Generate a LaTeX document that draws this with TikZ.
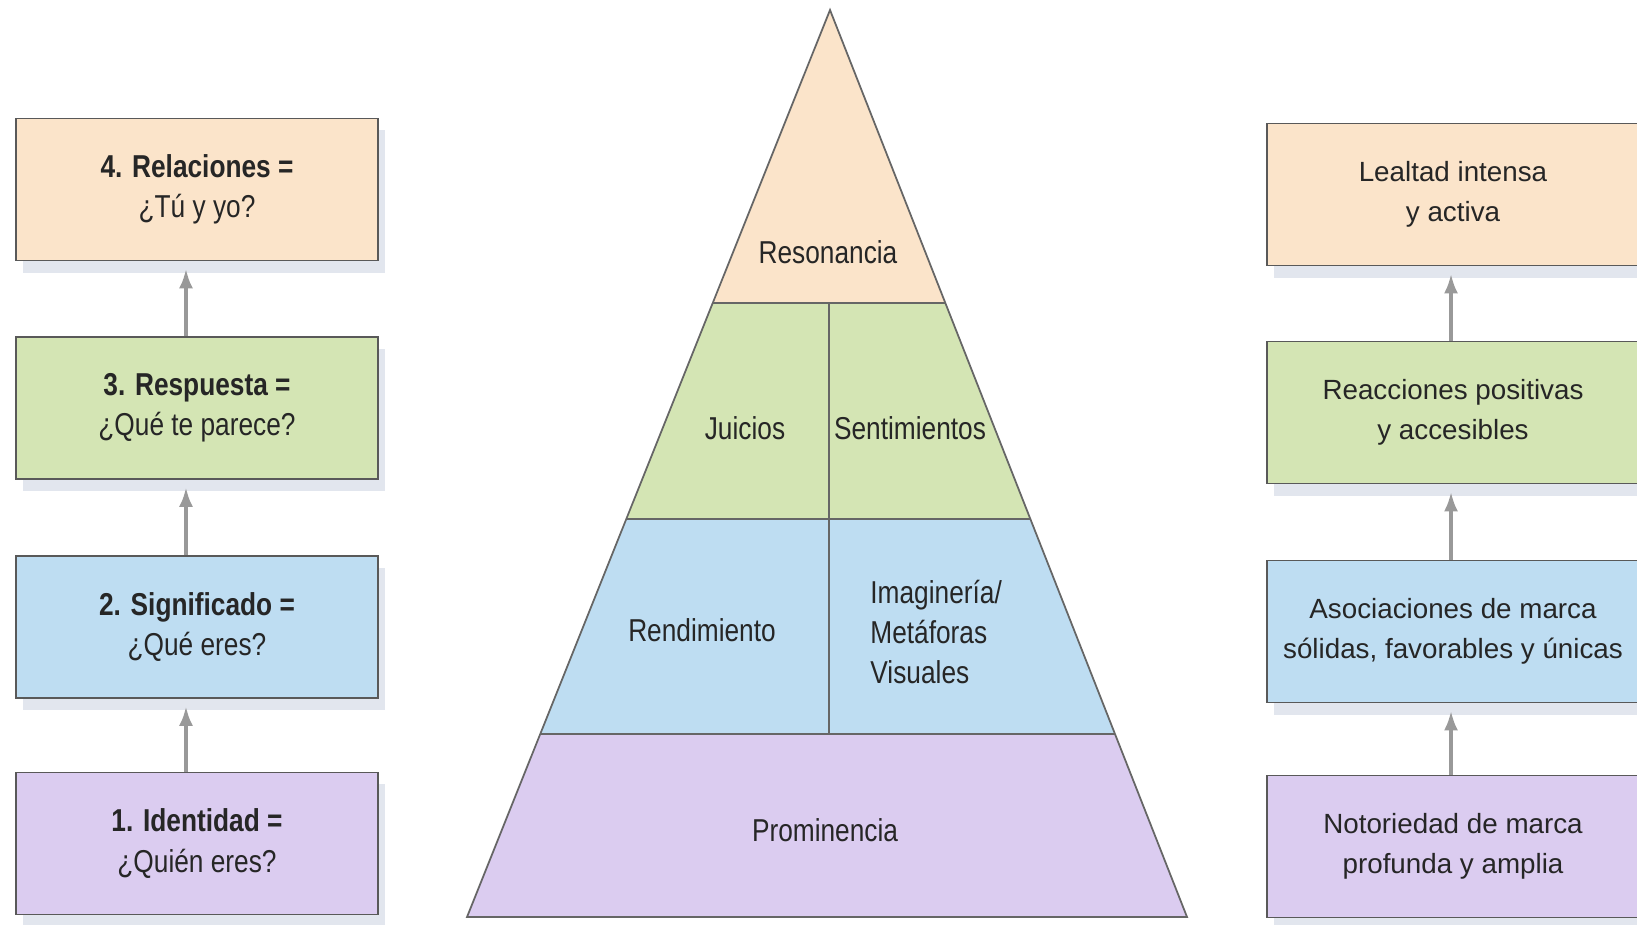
\documentclass[tikz,border=0pt]{standalone}
\usepackage{fontspec}
\setmainfont{Liberation Sans}
\newfontfamily\condfont{Liberation Sans}[FakeStretch=0.83]
\usetikzlibrary{arrows.meta, calc, shadows}
\definecolor{peachfill}{RGB}{251,228,202}
\definecolor{greenfill}{RGB}{212,229,180}
\definecolor{bluefill}{RGB}{190,221,242}
\definecolor{lilacfill}{RGB}{219,204,240}
\definecolor{shadowfill}{RGB}{226,230,238}
\tikzset{
    levelbox/.style={rectangle, minimum width=3.62cm, minimum height=1.42cm, align=center, draw=black!65, line width=0.5pt, text=black!85, font=\condfont\fontsize{9}{11.4}\selectfont, drop shadow={shadow xshift=0.07cm, shadow yshift=-0.12cm, fill=shadowfill, opacity=1}},
    goalbox/.style={levelbox, minimum width=3.72cm, font=\fontsize{7.9}{11.4}\selectfont},
    layer/.style={draw=black!60, line width=0.5pt},
    layertext/.style={align=left, text=black!85, font=\condfont\fontsize{9}{11.4}\selectfont},
    uparrow/.style={draw=black!40, line width=1.4pt, -{Latex[length=0.2cm, width=0.14cm]}, shorten >=0.07cm}
}
\begin{document}
\begin{tikzpicture}[x=0.01cm, y=-0.01cm]
    \useasboundingbox (0,0) rectangle (1637,925);

    % Left column: the four steps
    \node[levelbox, fill=peachfill] (rel) at (197,189.5) {\textbf{4. Relaciones =}\\¿Tú y yo?};
    \node[levelbox, fill=greenfill] (resp) at (197,408) {\textbf{3. Respuesta =}\\¿Qué te parece?};
    \node[levelbox, fill=bluefill] (sig) at (197,627) {\textbf{2. Significado =}\\¿Qué eres?};
    \node[levelbox, fill=lilacfill] (iden) at (197,843.5) {\textbf{1. Identidad =}\\¿Quién eres?};

    \draw[uparrow] ([xshift=-0.11cm]iden.north) -- ([xshift=-0.11cm]sig.south);
    \draw[uparrow] ([xshift=-0.11cm]sig.north) -- ([xshift=-0.11cm]resp.south);
    \draw[uparrow] ([xshift=-0.11cm]resp.north) -- ([xshift=-0.11cm]rel.south);

    % Pyramid
    \coordinate (apex) at (830,10);
    \coordinate (bl) at (467,917);
    \coordinate (br) at (1187,917);
    \coordinate (l1) at ($(apex)!0.3230!(bl)$);
    \coordinate (r1) at ($(apex)!0.3230!(br)$);
    \coordinate (l2) at ($(apex)!0.5612!(bl)$);
    \coordinate (r2) at ($(apex)!0.5612!(br)$);
    \coordinate (l3) at ($(apex)!0.7982!(bl)$);
    \coordinate (r3) at ($(apex)!0.7982!(br)$);

    \fill[peachfill] (apex) -- (r1) -- (l1) -- cycle;
    \fill[greenfill] (l1) -- (r1) -- (r2) -- (l2) -- cycle;
    \fill[bluefill] (l2) -- (r2) -- (r3) -- (l3) -- cycle;
    \fill[lilacfill] (l3) -- (r3) -- (br) -- (bl) -- cycle;

    \draw[layer] (apex) -- (br) -- (bl) -- cycle;
    \draw[layer] (l1) -- (r1);
    \draw[layer] (l2) -- (r2);
    \draw[layer] (l3) -- (r3);
    \draw[layer] (829,303) -- (829,734);

    \node[layertext] (reso) at (828,252) {Resonancia};
    \node[layertext] (juic) at (745,428) {Juicios};
    \node[layertext] (sent) at (910,428) {Sentimientos};
    \node[layertext] (rend) at (702,630) {Rendimiento};
    \node[layertext, anchor=west] (imag) at (858,632) {Imaginería/\\Metáforas\\Visuales};
    \node[layertext] (prom) at (825,830) {Prominencia};

    % Right column: the outcomes
    \node[goalbox, fill=peachfill] (leal) at (1453,194.5) {Lealtad intensa\\y activa};
    \node[goalbox, fill=greenfill] (reac) at (1453,412.5) {Reacciones positivas\\y accesibles};
    \node[goalbox, fill=bluefill] (asoc) at (1453,631.5) {Asociaciones de marca\\sólidas, favorables y únicas};
    \node[goalbox, fill=lilacfill] (noto) at (1453,846.5) {Notoriedad de marca\\profunda y amplia};

    \draw[uparrow] ([xshift=-0.02cm]noto.north) -- ([xshift=-0.02cm]asoc.south);
    \draw[uparrow] ([xshift=-0.02cm]asoc.north) -- ([xshift=-0.02cm]reac.south);
    \draw[uparrow] ([xshift=-0.02cm]reac.north) -- ([xshift=-0.02cm]leal.south);
\end{tikzpicture}
\end{document}
